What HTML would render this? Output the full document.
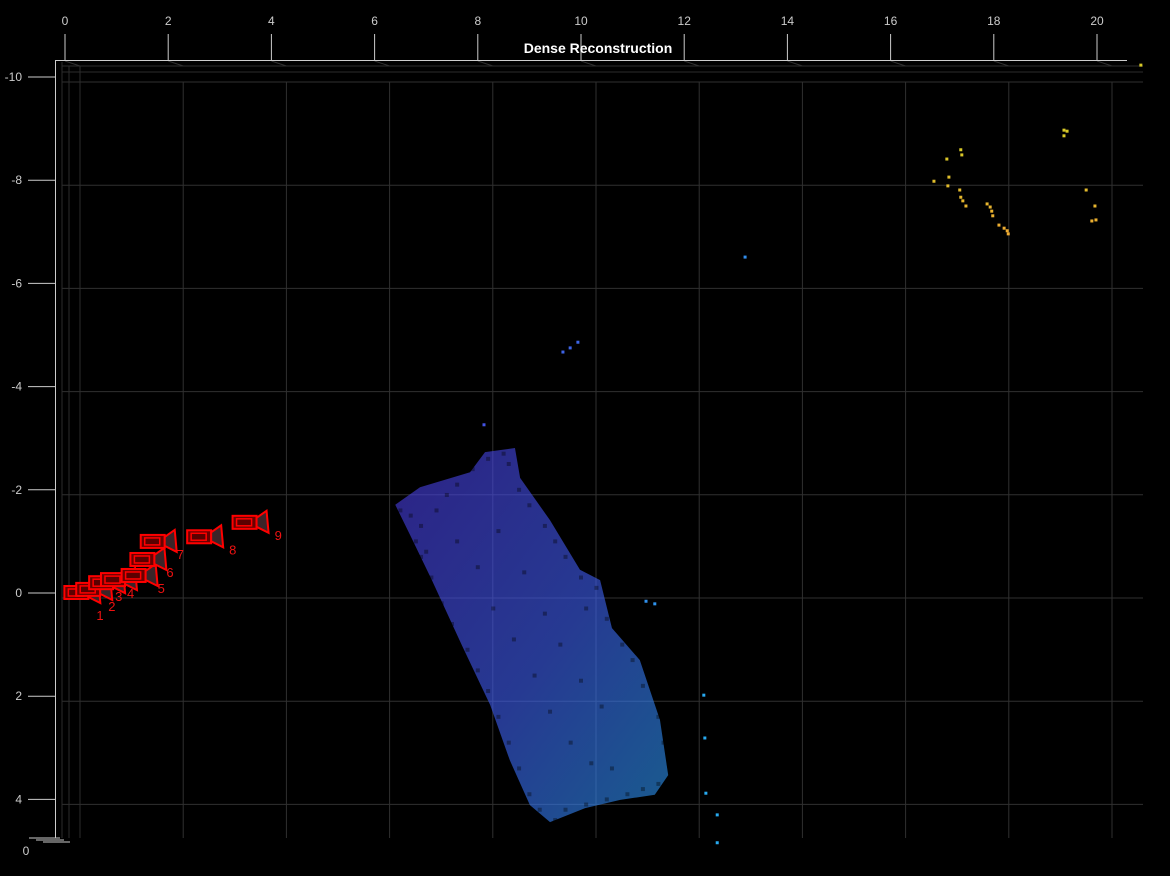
<!DOCTYPE html>
<html><head><meta charset="utf-8"><style>
html,body{margin:0;padding:0;background:#000;}
svg{display:block;font-family:"Liberation Sans",sans-serif;}
</style></head><body>
<svg id="chart" width="1170" height="876" viewBox="0 0 1170 876" xmlns="http://www.w3.org/2000/svg">
<rect x="0" y="0" width="1170" height="876" fill="#000"/>
<defs>
<linearGradient id="cloudGrad" x1="0" y1="0" x2="1" y2="1">
<stop offset="0" stop-color="#4a3ae0"/><stop offset="0.55" stop-color="#4060f4"/><stop offset="1" stop-color="#2a9af0"/>
</linearGradient>
</defs>
<g id="grid"></g>
<g id="axes"></g>
<g id="cloud"></g>
<g id="cams"></g>
<text x="598" y="53" fill="#fff" font-size="14" font-weight="bold" text-anchor="middle">Dense Reconstruction</text>
</svg>
<script>
const xTicks = [0,2,4,6,8,10,12,14,16,18,20];
const yTicks = [-10,-8,-6,-4,-2,0,2,4];
const cloudHull = [[6.40,-1.71],[6.88,-2.05],[7.85,-2.34],[8.14,-2.73],[8.72,-2.81],[8.82,-2.23],[9.40,-1.41],[9.98,-0.45],[10.37,-0.25],[10.60,0.68],[11.14,1.30],[11.53,2.46],[11.69,3.53],[11.43,3.91],[10.76,4.01],[10.08,4.17],[9.40,4.44],[9.01,4.11],[8.62,3.24],[8.24,2.17],[7.69,1.01],[7.11,-0.25],[6.69,-1.12]];
const cloudPoints = [[6.5,-1.6],[6.7,-1.5],[6.9,-1.3],[6.8,-1.0],[7.0,-0.8],[7.2,-1.6],[7.4,-1.9],[7.6,-2.1],[7.9,-2.4],[8.2,-2.6],[8.5,-2.7],[8.6,-2.5],[8.8,-2.0],[9.0,-1.7],[9.3,-1.3],[9.5,-1.0],[9.7,-0.7],[10.0,-0.3],[10.3,-0.1],[10.1,0.3],[10.5,0.5],[10.8,1.0],[11.0,1.3],[11.2,1.8],[11.5,2.4],[11.6,2.9],[11.7,3.3],[11.5,3.7],[11.2,3.8],[10.9,3.9],[10.5,4.0],[10.1,4.1],[9.7,4.2],[9.5,4.4],[9.2,4.2],[9.0,3.9],[8.8,3.4],[8.6,2.9],[8.4,2.4],[8.2,1.9],[8.0,1.5],[7.8,1.1],[7.5,0.6],[7.3,0.2],[7.1,-0.3],[6.9,-0.7],[7.6,-1.0],[8.0,-0.5],[8.3,0.3],[8.7,0.9],[9.1,1.6],[9.4,2.3],[9.8,2.9],[10.2,3.3],[10.6,3.4],[9.3,0.4],[9.6,1.0],[10.0,1.7],[10.4,2.2],[8.4,-1.2],[8.9,-0.4]];
const outlierPoints = [[9.65,-4.67],[9.79,-4.75],[9.94,-4.86],[8.12,-3.26],[13.18,-6.51],[12.64,4.30],[12.64,4.84],[12.40,2.81],[12.38,1.98],[12.42,3.88],[11.26,0.16],[11.43,0.21]];
const yellowPoints = [[17.36,-8.59],[17.38,-8.49],[17.09,-8.41],[16.84,-7.98],[17.13,-8.06],[17.11,-7.89],[17.34,-7.81],[17.36,-7.67],[17.40,-7.60],[17.46,-7.50],[17.87,-7.54],[17.93,-7.48],[17.96,-7.40],[17.98,-7.31],[18.10,-7.13],[18.20,-7.07],[18.26,-7.02],[18.28,-6.96],[19.36,-8.97],[19.42,-8.95],[19.36,-8.86],[19.79,-7.81],[19.96,-7.50],[19.90,-7.21],[19.98,-7.23],[20.85,-10.23]];
const camX = [0.22,0.45,0.70,0.93,1.33,1.50,1.70,2.60,3.48];
const camY = [0.00,-0.06,-0.19,-0.25,-0.33,-0.64,-0.99,-1.08,-1.36];
const camLabels = ["1","2","3","4","5","6","7","8","9"];

const NS="http://www.w3.org/2000/svg";
const sx = v => 65 + 51.6*v;
const sy = v => 593 + 51.6*v;
function mk(parent, tag, attrs){const e=document.createElementNS(NS,tag);for(const k in attrs)e.setAttribute(k,attrs[k]);parent.appendChild(e);return e;}
const grid=document.getElementById('grid'), axes=document.getElementById('axes'), cloud=document.getElementById('cloud'), cams=document.getElementById('cams');

xTicks.forEach(t=>{
  let l=mk(grid,'line',{x1:sx(t)+15,y1:82,x2:sx(t)+15,y2:838,stroke:'#303030','stroke-width':1});
  
  
  let d=mk(grid,'line',{x1:sx(t),y1:61,x2:sx(t)+15,y2:66,stroke:'#303030','stroke-width':1});
  
  
});
yTicks.forEach(t=>{
  let l=mk(grid,'line',{x1:62,y1:sy(t)+5,x2:1143,y2:sy(t)+5,stroke:'#303030','stroke-width':1});
  
  
});
[[62,66,1143,66],[62,72,1143,72],[62,62,62,838],[69,66,69,838],[80,66,80,838]].forEach(c=>{
  let l=mk(grid,'line',{x1:c[0],y1:c[1],x2:c[2],y2:c[3],stroke:'#2c2c2c','stroke-width':1});
  
  
});

let ax=mk(axes,'line',{x1:55,y1:60.5,x2:1127,y2:60.5,stroke:'#ccc','stroke-width':1});


let ay=mk(axes,'line',{x1:55.5,y1:60,x2:55.5,y2:838,stroke:'#ccc','stroke-width':1});


[[29,838,60,838],[36,840,64,840],[43,842,70,842]].forEach(c=>{
  let l=mk(axes,'line',{x1:c[0],y1:c[1],x2:c[2],y2:c[3],stroke:'#ccc','stroke-width':1});
  
  
});
let z0=mk(axes,'text',{x:26,y:855,fill:'#ccc','font-size':12,'text-anchor':'middle'});z0.textContent='0';


xTicks.forEach(t=>{
  let l=mk(axes,'line',{x1:sx(t),y1:34,x2:sx(t),y2:60,stroke:'#ccc','stroke-width':1});
  
  
  let tx=mk(axes,'text',{x:sx(t),y:25,fill:'#ccc','font-size':12,'text-anchor':'middle'});tx.textContent=t;
  
  
});
yTicks.forEach(t=>{
  let l=mk(axes,'line',{x1:28,y1:sy(t),x2:55,y2:sy(t),stroke:'#ccc','stroke-width':1});
  
  
  let tx=mk(axes,'text',{x:22,y:sy(t)+4,fill:'#ccc','font-size':12,'text-anchor':'end'});tx.textContent=t;
  
  
});

function blueColor(x,y){const t=Math.max(0,Math.min(1,((x-6.4)/5.3)*0.7+((y+2.8)/7.2)*0.3));
  const r=Math.round(74+(40-74)*t),g=Math.round(60+(170-60)*t),b=Math.round(225+(240-225)*t);return `rgb(${r},${g},${b})`;}
let hull=mk(cloud,'polygon',{points:cloudHull.map(p=>sx(p[0])+','+sy(p[1])).join(' '),fill:'url(#cloudGrad)','fill-opacity':0.6});


cloudPoints.forEach(p=>{
  let r=mk(cloud,'rect',{x:sx(p[0])-2,y:sy(p[1])-2,width:4,height:4,fill:'#000','fill-opacity':0.35});
  
  
});
outlierPoints.forEach(p=>{
  let r=mk(cloud,'rect',{x:sx(p[0])-1.5,y:sy(p[1])-1.5,width:3,height:3,fill:blueColor(p[0],p[1])});
  
  
});
yellowPoints.forEach(p=>{
  const t=Math.max(0,Math.min(1,(p[1]+8.6)/1.7));
  let r=mk(cloud,'rect',{x:sx(p[0])-1.5,y:sy(p[1])-1.5,width:3,height:3,fill:`rgb(${Math.round(215+25*t)},${Math.round(200-30*t)},${Math.round(40+10*t)})`});
  
  
});

camX.forEach((cx,i)=>{
  const x=sx(cx), y=sy(camY[i]);
  const g=mk(cams,'g',{});
  
  
  mk(g,'rect',{x:x-12,y:y-7,width:24,height:13,fill:'#6a0000',stroke:'#ff0000','stroke-width':2});
  mk(g,'rect',{x:x-8,y:y-4,width:15,height:7,fill:'#5a0000',stroke:'#ff0000','stroke-width':1.5});
  mk(g,'polygon',{points:`${x+12},${y-5} ${x+22},${y-12} ${x+24},${y+10} ${x+12},${y+4}`,fill:'#3a2428',stroke:'#ff0000','stroke-width':2});
  let lb=mk(cams,'text',{x:x+(i<2?20:i<4?14:i<7?24:30),y:y+(i===0?27:i===1?21:i<4?18:17),fill:'#ee1111','font-size':13});
  lb.textContent=camLabels[i];
  
  
});
</script>
</body></html>
